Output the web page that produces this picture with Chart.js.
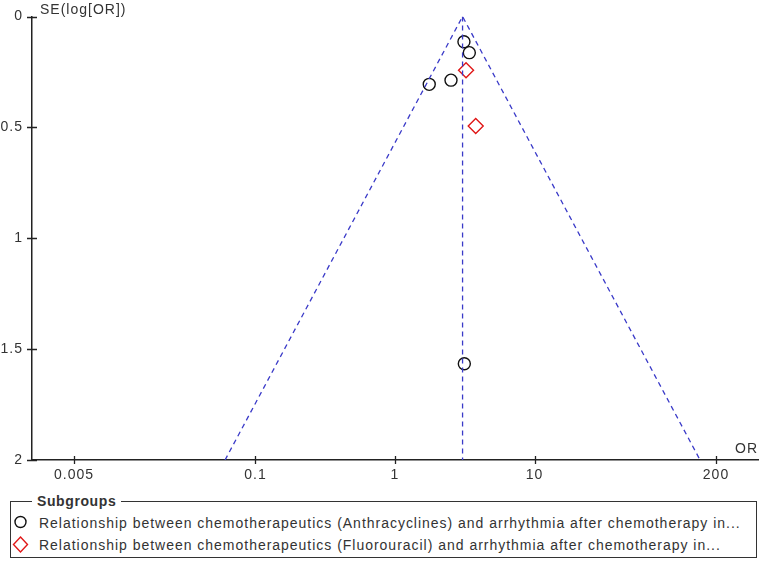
<!DOCTYPE html>
<html>
<head>
<meta charset="utf-8">
<script src="https://cdn.jsdelivr.net/npm/chart.js@4/dist/chart.umd.min.js"></script>
<style>
  html, body { margin:0; padding:0; background:#fff; }
  body { width:762px; height:562px; position:relative; overflow:hidden; font-family:"Liberation Sans", Arial, sans-serif; color:#333; }
  #c { position:absolute; left:0; top:0; }
  #legend { position:absolute; left:10px; top:501px; width:747px; height:57px; border:1.5px solid #333; box-sizing:border-box; }
  #legend .title { position:absolute; left:21px; top:-9px; background:#fff; padding:0 5px; font-weight:bold; font-size:14px; line-height:16px; color:#333; letter-spacing:0.6px; }
  #legend .row { position:absolute; left:0; height:20px; font-size:14px; line-height:20px; white-space:nowrap; letter-spacing:0.98px; }
  #legend .row svg { position:absolute; left:0; top:0; }
  #legend .row span { position:absolute; left:28px; top:0; }
</style>
</head>
<body>
<canvas id="c" width="762" height="490"></canvas>
<div id="legend">
  <div class="title">Subgroups</div>
  <div class="row" style="top:11px"><svg width="22" height="20"><circle cx="9.5" cy="9" r="5.5" fill="none" stroke="#111" stroke-width="1.4"/></svg><span id="l1"></span></div>
  <div class="row" style="top:33px"><svg width="22" height="20"><polygon points="9.5,2 16.5,9.5 9.5,17 2.5,9.5" fill="none" stroke="#e01818" stroke-width="1.4"/></svg><span id="l2"></span></div>
</div>
<script>
// ---- data ----
const seriesNames = [
  "Relationship between chemotherapeutics (Anthracyclines) and arrhythmia after chemotherapy in...",
  "Relationship between chemotherapeutics (Fluorouracil) and arrhythmia after chemotherapy in..."
];
const anthracyclinesOR = [3.12, 3.41, 2.52, 1.76, 3.14];
const anthracyclinesSE = [0.114, 0.163, 0.287, 0.306, 1.566];
const fluorouracilOR = [3.23, 3.79];
const fluorouracilSE = [0.242, 0.494];
const pooledOR = 3.05;
const seMax = 2;
const xTickValues = [0.005, 0.1, 1, 10, 200];
const yTickValues = [0, 0.5, 1, 1.5, 2];
const xRange = [0.0025, 400];
const xTitle = "OR";
const yTitle = "SE(log[OR])";

document.getElementById('l1').textContent = seriesNames[0];
document.getElementById('l2').textContent = seriesNames[1];

const funnelLeft = pooledOR * Math.exp(-1.96 * seMax);
const funnelRight = pooledOR * Math.exp(1.96 * seMax);

const FONT = '"Liberation Sans", Arial, sans-serif';
Chart.defaults.font.family = FONT;
Chart.defaults.font.size = 14;
Chart.defaults.color = '#333';

const extras = {
  id: 'extras',
  beforeDraw(chart) { chart.ctx.letterSpacing = '1px'; },
  afterDraw(chart) {
    const ctx = chart.ctx, xs = chart.scales.x, ys = chart.scales.y, a = chart.chartArea;
    ctx.save();
    ctx.strokeStyle = '#222';
    ctx.lineWidth = 1.3;
    ctx.beginPath();
    xTickValues.forEach(v => {
      const px = Math.round(xs.getPixelForValue(v)) + 0.5;
      ctx.moveTo(px, a.bottom - 4); ctx.lineTo(px, a.bottom + 4);
    });
    yTickValues.forEach(v => {
      const py = Math.round(ys.getPixelForValue(v)) + 0.5;
      ctx.moveTo(a.left - 5, py); ctx.lineTo(a.left + 5, py);
    });
    ctx.stroke();
    ctx.fillStyle = '#333';
    ctx.font = '14px ' + FONT;
    ctx.letterSpacing = '1px';
    ctx.textBaseline = 'middle';
    ctx.textAlign = 'left';
    ctx.fillText(yTitle, a.left + 8, 10);
    ctx.textAlign = 'right';
    ctx.fillText(xTitle, a.right, a.bottom - 11);
    ctx.restore();
  }
};

new Chart(document.getElementById('c'), {
  type: 'scatter',
  data: {
    datasets: [
      {
        data: [{x: funnelLeft, y: seMax}, {x: pooledOR, y: 0}, {x: funnelRight, y: seMax}],
        showLine: true, borderColor: '#3a3ac8', borderWidth: 1.3, borderDash: [5, 4],
        pointRadius: 0, fill: false
      },
      {
        data: [{x: pooledOR, y: 0}, {x: pooledOR, y: seMax}],
        showLine: true, borderColor: '#3a3ac8', borderWidth: 1.3, borderDash: [5, 4],
        pointRadius: 0, fill: false
      },
      {
        data: anthracyclinesOR.map((v, i) => ({x: v, y: anthracyclinesSE[i]})),
        pointStyle: 'circle', pointRadius: 6, borderColor: '#111', borderWidth: 1.4,
        backgroundColor: 'rgba(0,0,0,0)'
      },
      {
        data: fluorouracilOR.map((v, i) => ({x: v, y: fluorouracilSE[i]})),
        pointStyle: 'rectRot', pointRadius: 7.5, borderColor: '#e01818', borderWidth: 1.4,
        backgroundColor: 'rgba(0,0,0,0)'
      }
    ]
  },
  options: {
    responsive: false,
    animation: false,
    devicePixelRatio: 1,
    layout: { autoPadding: false, padding: { top: 16.5, left: 0, right: 4, bottom: 0 } },
    plugins: { legend: { display: false }, tooltip: { enabled: false } },
    scales: {
      x: {
        type: 'logarithmic', min: xRange[0], max: xRange[1],
        afterBuildTicks: s => { s.ticks = xTickValues.map(v => ({value: v})); },
        afterFit: s => { s.height = 30; s.paddingLeft = 0; s.paddingRight = 0; },
        ticks: { callback: v => String(v), padding: 7, maxRotation: 0, autoSkip: false, color: '#333' },
        grid: { drawOnChartArea: false, drawTicks: false },
        border: { display: true, color: '#222', width: 1.5 }
      },
      y: {
        type: 'linear', reverse: true, min: 0, max: seMax,
        afterBuildTicks: s => { s.ticks = yTickValues.map(v => ({value: v})); },
        afterFit: s => { s.width = 32; s.paddingTop = 0; s.paddingBottom = 0; },
        ticks: { callback: v => String(v), padding: 9, autoSkip: false, color: '#333' },
        grid: { drawOnChartArea: false, drawTicks: false },
        border: { display: true, color: '#222', width: 1.5 }
      }
    }
  },
  plugins: [extras]
});
</script>
</body>
</html>
